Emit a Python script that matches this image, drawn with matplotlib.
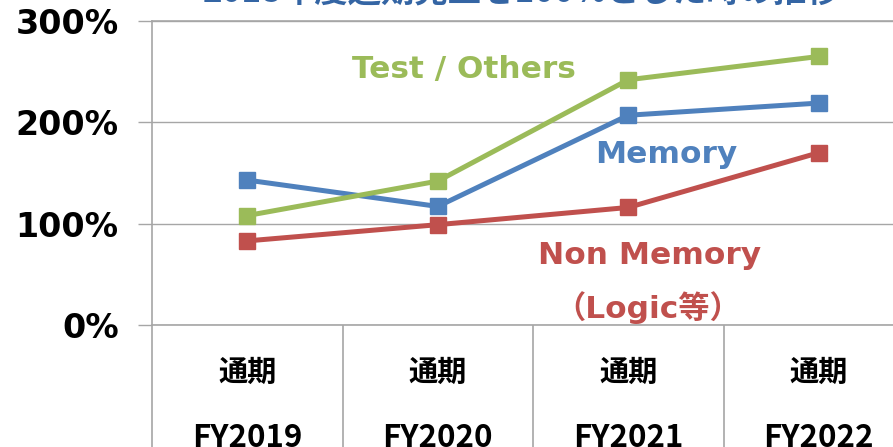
import matplotlib.pyplot as plt

# values (percent of FY2018 sales)
categories = ["FY2019", "FY2020", "FY2021", "FY2022"]
period_label = "通期"
memory = [143, 117, 207, 219]
non_memory = [83, 99, 116, 170]
test_others = [108, 142, 242, 265]
yticks = [0, 100, 200, 300]

BLUE = "#4F81BD"
RED = "#C0504D"
GREEN = "#9BBB59"
GRID = "#A6A6A6"

plt.rcParams["font.family"] = ["DejaVu Sans", "Noto Sans CJK JP"]

fig = plt.figure(figsize=(8.93, 4.47), dpi=100, facecolor="white")
# plot area runs off the right and bottom edge, as in the reference crop
ax = fig.add_axes([152 / 893, 122 / 447, 762 / 893, 304 / 447])

x = list(range(len(categories)))
for vals, col in [(non_memory, RED), (memory, BLUE), (test_others, GREEN)]:
    ax.plot(x, vals, color=col, lw=3.6, marker="s", ms=11,
            solid_joinstyle="miter", zorder=3)

ax.set_xlim(-0.5, len(categories) - 0.5)
ax.set_ylim(0, 300)
ax.set_yticks(yticks)
ax.set_yticklabels([f"{v}%" for v in yticks], fontsize=24, fontweight="bold")
ax.tick_params(axis="y", direction="out", length=10, width=1, color=GRID, pad=14)
ax.set_xticks([])
ax.yaxis.grid(True, color=GRID, lw=1)
ax.set_axisbelow(True)
for side in ["left", "bottom", "top"]:
    ax.spines[side].set_color(GRID)
    ax.spines[side].set_linewidth(1.2)
ax.spines["right"].set_visible(False)

# category table under the axis
ax.vlines([i - 0.5 for i in x], -160, 0, color=GRID, lw=1.2, clip_on=False)
for i, cat in enumerate(categories):
    ax.text(i, -46, period_label, ha="center", va="center", fontsize=21,
            fontweight="bold", family="Noto Sans CJK JP")
    ax.text(i, -112, cat, ha="center", va="center", fontsize=22.5,
            fontweight="bold", family="Noto Sans CJK JP")

# series labels
lab = dict(ha="center", va="center", fontsize=22.5, fontweight="bold")
ax.text(1.14, 252, "Test / Others", color=GREEN, **lab)
ax.text(2.20, 168, "Memory", color=BLUE, **lab)
ax.text(2.11, 69, "Non Memory", color=RED, **lab)
ax.text(2.10, 17, "（Logic等）", color=RED, **lab)

# title, mostly cut off by the top edge in the reference
fig.text(522 / 893, 1 - 2.5 / 447, "2018年度通期売上を100%とした時の推移",
         ha="center", va="baseline", fontsize=24, fontweight="bold",
         color="#3465A4", family="Noto Sans CJK JP")

fig.savefig("out.png", dpi=100, facecolor="white")
